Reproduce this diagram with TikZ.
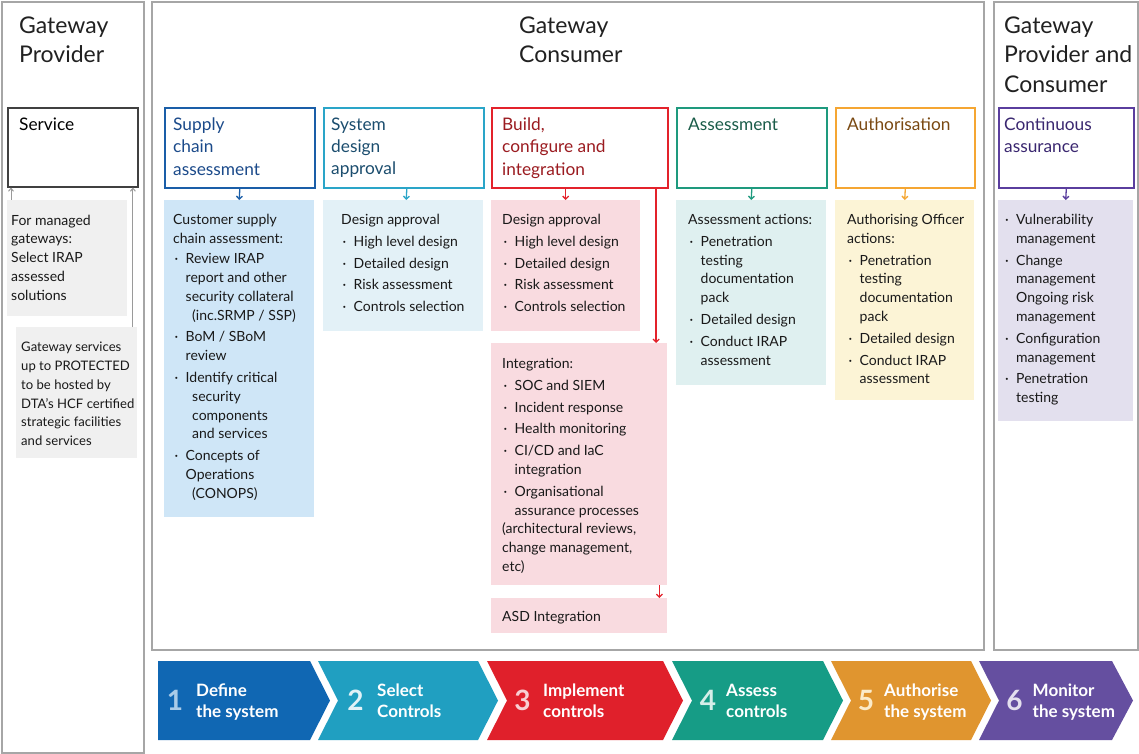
\documentclass[tikz,border=0pt]{standalone}
\usepackage{fontspec}
\setmainfont{Lato}
\usetikzlibrary{arrows.meta}
\definecolor{pgray}{HTML}{A6A6A6}
\definecolor{svcb}{HTML}{404040}
\definecolor{gfill}{HTML}{F0F0F0}
\definecolor{garrow}{HTML}{9A9A9A}
\definecolor{supB}{HTML}{1A5EA8}
\definecolor{supT}{HTML}{1B4A8A}
\definecolor{supF}{HTML}{CFE6F7}
\definecolor{sysB}{HTML}{2AA5C8}
\definecolor{sysT}{HTML}{1B4D6E}
\definecolor{sysF}{HTML}{E3F1F7}
\definecolor{bldB}{HTML}{E3222B}
\definecolor{bldT}{HTML}{9B1B20}
\definecolor{bldF}{HTML}{F9DBE0}
\definecolor{assB}{HTML}{1E9A7E}
\definecolor{assT}{HTML}{1A5C49}
\definecolor{assF}{HTML}{DFF0F0}
\definecolor{autB}{HTML}{F5A632}
\definecolor{autT}{HTML}{7A4912}
\definecolor{autF}{HTML}{FCF4D6}
\definecolor{conB}{HTML}{5A3E9E}
\definecolor{conT}{HTML}{3A2770}
\definecolor{conF}{HTML}{E3E0EE}
\definecolor{chA}{HTML}{1067B3}
\definecolor{chB}{HTML}{209FC1}
\definecolor{chC}{HTML}{E0202B}
\definecolor{chD}{HTML}{169C86}
\definecolor{chE}{HTML}{E0952F}
\definecolor{chF}{HTML}{654FA0}
\definecolor{nA}{HTML}{A9CBE8}
\definecolor{nB}{HTML}{E2F2F7}
\definecolor{nC}{HTML}{F8CFD3}
\definecolor{nD}{HTML}{D5EEE8}
\definecolor{nE}{HTML}{FBEBC9}
\definecolor{nF}{HTML}{E4E0EE}
\newcommand{\bl}{\makebox[12.5pt][l]{\hspace{1.5pt}·}}
\newcommand{\ind}{\hspace*{12.5pt}}
\newcommand{\indd}{\hspace*{19pt}}
\tikzset{
  panel/.style={draw=pgray, line width=2pt, anchor=north west, inner sep=0pt},
  hdrbox/.style={draw=#1, line width=1.6pt, fill=white, anchor=north west, inner sep=0pt},
  bodybox/.style={fill=#1, anchor=north west, inner sep=0pt},
  bigtitle/.style={anchor=north west, inner sep=0pt, align=left, text=black!87, font=\fontsize{23}{29.5}\selectfont},
  boxtitle/.style={anchor=north west, inner sep=0pt, align=left, font=\fontsize{17.3}{22.3}\selectfont},
  bodytext/.style={anchor=north west, inner sep=0pt, align=left, text=black!90, font=\fontsize{14}{18.8}\selectfont},
  arr/.style={-{Straight Barb[length=3pt,width=6pt]}, line width=1.3pt, draw=#1},
  garr/.style={-{Straight Barb[length=3pt,width=5pt]}, line width=1pt, draw=garrow},
  chnum/.style={anchor=center, inner sep=0pt, font=\fontsize{28}{28}\selectfont\bfseries},
  chlab/.style={anchor=north west, inner sep=0pt, align=left, text=white, font=\fontsize{17}{20.5}\selectfont\bfseries}
}
\begin{document}
\begin{tikzpicture}[x=1pt,y=-1pt]
\useasboundingbox (0,0) rectangle (1139,753);
\fill[white] (0,0) rectangle (1139,753);

% panels
\node[panel, minimum width=142pt, minimum height=751pt] (pprov) at (1,1) {};
\node[panel, minimum width=832pt, minimum height=648pt] (pcons) at (151,1) {};
\node[panel, minimum width=144pt, minimum height=648pt] (pboth) at (993,1) {};
\node[bigtitle] (tprov) at (19,16.5) {Gateway\\Provider};
\node[bigtitle] (tcons) at (519,16.5) {Gateway\\Consumer};
\node[bigtitle] (tboth) at (1004,16.5) {Gateway\\Provider and\\Consumer};

% service column
\node[hdrbox=svcb, line width=1.5pt, minimum width=130pt, minimum height=79pt] (svc) at (7,107) {};
\node[boxtitle, text=black] (svct) at (19,118) {Service};
\node[bodybox=gfill, minimum width=120pt, minimum height=116pt] (g1) at (7,199.5) {};
\node[bodytext] (g1t) at (11,214.5) {For managed\\gateways:\\Select IRAP\\assessed\\solutions};
\node[bodybox=gfill, minimum width=121pt, minimum height=131pt] (g2) at (16,327) {};
\node[bodytext, font=\fontsize{13.1}{18.8}\selectfont] (g2t) at (21,342) {Gateway services\\up to PROTECTED\\to be hosted by\\DTA’s HCF certified\\strategic facilities\\and services};
\draw[garr] ([xshift=4pt]g1.north west) -- ([xshift=4pt]g1.north west |- svc.south);
\draw[garr] ([xshift=-4.5pt]g2.north east) -- ([xshift=-4.5pt]g2.north east |- svc.south);

% header boxes
\node[hdrbox=supB, minimum width=150pt, minimum height=80pt] (h1) at (164,107) {};
\node[hdrbox=sysB, minimum width=160pt, minimum height=80pt] (h2) at (323,107) {};
\node[hdrbox=bldB, minimum width=176pt, minimum height=80pt] (h3) at (491,107) {};
\node[hdrbox=assB, minimum width=150pt, minimum height=80pt] (h4) at (676,107) {};
\node[hdrbox=autB, minimum width=139pt, minimum height=80pt] (h5) at (835,107) {};
\node[hdrbox=conB, minimum width=135pt, minimum height=80pt] (h6) at (998,107) {};
\node[boxtitle, text=supT] (h1t) at (173,117.5) {Supply\\chain\\assessment};
\node[boxtitle, text=sysT] (h2t) at (331,117.5) {System\\design\\approval};
\node[boxtitle, text=bldT] (h3t) at (502,117.5) {Build,\\configure and\\integration};
\node[boxtitle, text=assT] (h4t) at (688,117.5) {Assessment};
\node[boxtitle, text=autT] (h5t) at (847,117.5) {Authorisation};
\node[boxtitle, text=conT] (h6t) at (1004,117.5) {Continuous\\assurance};

% body boxes
\node[bodybox=supF, minimum width=150pt, minimum height=317pt] (c1) at (164,200) {};
\node[bodybox=sysF, minimum width=160pt, minimum height=131pt] (c2) at (323,200) {};
\node[bodybox=bldF, minimum width=149pt, minimum height=131pt] (c3a) at (491,200) {};
\node[bodybox=bldF, minimum width=176pt, minimum height=242pt] (c3b) at (491,343) {};
\node[bodybox=bldF, minimum width=176pt, minimum height=35pt] (c3c) at (491,598) {};
\node[bodybox=assF, minimum width=150pt, minimum height=185pt] (c4) at (676,200) {};
\node[bodybox=autF, minimum width=139pt, minimum height=200pt] (c5) at (835,200) {};
\node[bodybox=conF, minimum width=135pt, minimum height=221pt] (c6) at (998,200) {};

\node[bodytext] (c1t) at (173,214) {Customer supply\\chain assessment:\\[1.5pt]
\bl Review IRAP\\\ind report and other\\\ind security collateral\\\indd(inc.SRMP / SSP)\\[3pt]
\bl BoM / SBoM\\\ind review\\[3pt]
\bl Identify critical\\\indd security\\\indd components\\\indd and services\\[3pt]
\bl Concepts of\\\ind Operations\\\indd(CONOPS)};
\node[bodytext] (c2t) at (341,214) {Design approval\\[3pt]\bl High level design\\[3pt]\bl Detailed design\\[3pt]\bl Risk assessment\\[3pt]\bl Controls selection};
\node[bodytext] (c3at) at (502,214) {Design approval\\[3pt]\bl High level design\\[3pt]\bl Detailed design\\[3pt]\bl Risk assessment\\[3pt]\bl Controls selection};
\node[bodytext] (c3bt) at (502,358) {Integration:\\[3pt]\bl SOC and SIEM\\[3pt]\bl Incident response\\[3pt]\bl Health monitoring\\[3pt]
\bl CI/CD and IaC\\\ind integration\\[3pt]
\bl Organisational\\\ind assurance processes\\(architectural reviews,\\change management,\\etc)};
\node[bodytext] (c3ct) at (502,611) {ASD Integration};
\node[bodytext] (c4t) at (688,214) {Assessment actions:\\[3pt]
\bl Penetration\\\ind testing\\\ind documentation\\\ind pack\\[3pt]
\bl Detailed design\\[3pt]
\bl Conduct IRAP\\\ind assessment};
\node[bodytext] (c5t) at (847,214) {Authorising Officer\\actions:\\[3pt]
\bl Penetration\\\ind testing\\\ind documentation\\\ind pack\\[3pt]
\bl Detailed design\\[3pt]
\bl Conduct IRAP\\\ind assessment};
\node[bodytext] (c6t) at (1003.5,214) {\bl Vulnerability\\\ind management\\[3pt]
\bl Change\\\ind management\\\ind Ongoing risk\\\ind management\\[3pt]
\bl Configuration\\\ind management\\[3pt]
\bl Penetration\\\ind testing};

% arrows header -> body
\draw[arr=supB] (h1.south) -- (c1.north);
\draw[arr=sysB] ([xshift=3pt]h2.south) -- ([xshift=3pt]c2.north);
\draw[arr=bldB] (c3a.north |- h3.south) -- (c3a.north);
\draw[arr=bldB] ([xshift=-12.5pt]h3.south east) -- ([xshift=-12.5pt]h3.south east |- c3b.north);
\draw[arr=bldB] ([xshift=-8pt]c3b.south east) -- ([xshift=-8pt]c3c.north east);
\draw[arr=assB] (h4.south) -- (c4.north);
\draw[arr=autB] (h5.south) -- (c5.north);
\draw[arr=conB] (h6.south) -- (c6.north);

% chevrons
\fill[chA] (158,661) -- (310,661) -- (330,700.5) -- (310,740) -- (158,740) -- cycle;
\fill[chB] (318,661) -- (478,661) -- (498,700.5) -- (478,740) -- (318,740) -- (338,700.5) -- cycle;
\fill[chC] (487,661) -- (663,661) -- (683,700.5) -- (663,740) -- (487,740) -- (507,700.5) -- cycle;
\fill[chD] (672,661) -- (823,661) -- (843,700.5) -- (823,740) -- (672,740) -- (692,700.5) -- cycle;
\fill[chE] (831,661) -- (971,661) -- (991,700.5) -- (971,740) -- (831,740) -- (851,700.5) -- cycle;
\fill[chF] (979,661) -- (1112,661) -- (1133,700.5) -- (1112,740) -- (979,740) -- (999,700.5) -- cycle;
\node[chnum, text=nA] (n1) at (175,700.5) {1};
\node[chnum, text=nB] (n2) at (355.5,700.5) {2};
\node[chnum, text=nC] (n3) at (522.5,700.5) {3};
\node[chnum, text=nD] (n4) at (708,700.5) {4};
\node[chnum, text=nE] (n5) at (866,700.5) {5};
\node[chnum, text=nF] (n6) at (1014.5,700.5) {6};
\node[chlab] (l1) at (196,684) {Define\\the system};
\node[chlab] (l2) at (377,684) {Select\\Controls};
\node[chlab] (l3) at (543,684) {Implement\\controls};
\node[chlab] (l4) at (726,684) {Assess\\controls};
\node[chlab] (l5) at (884,684) {Authorise\\the system};
\node[chlab] (l6) at (1032.5,684) {Monitor\\the system};
\end{tikzpicture}
\end{document}
